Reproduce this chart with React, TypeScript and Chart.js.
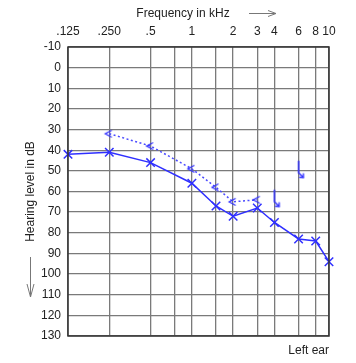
import React, { useEffect, useRef } from "react";
import { Chart, registerables } from "chart.js";

Chart.register(...registerables);

// Grid / tick frequencies (kHz) and labels
const gridFreqs = [0.125, 0.25, 0.5, 0.75, 1, 1.5, 2, 3, 4, 6, 8, 10];
const freqTickLabels = [".125", ".250", ".5", "", "1", "", "2", "3", "4", "6", "8", "10"];

// Air conduction (X), left ear
const airFreqs = [0.125, 0.25, 0.5, 1, 1.5, 2, 3, 4, 6, 8, 10];
const airLevels = [42, 41, 46, 56, 67, 72, 68, 75, 83, 84, 94];

// Bone conduction (<)
const boneFreqs = [0.25, 0.5, 1, 1.5, 2, 3];
const boneLevels = [32, 38, 49, 58, 65, 64];

// No-response symbols
const noRespFreqs = [4, 6];
const noRespLevels = [63, 49];

const BLUE = "#2f2fff";
const FONT = '"Liberation Sans", Arial, sans-serif';

function makeBoneImg(): HTMLCanvasElement {
  const c = document.createElement("canvas");
  c.width = 12;
  c.height = 10;
  const g = c.getContext("2d")!;
  g.strokeStyle = BLUE;
  g.lineWidth = 1.3;
  g.beginPath();
  g.moveTo(8.5, 1.5);
  g.lineTo(2, 5);
  g.lineTo(8.5, 8.5);
  g.stroke();
  return c;
}

function makeNoRespImg(): HTMLCanvasElement {
  const c = document.createElement("canvas");
  c.width = 20;
  c.height = 24;
  const g = c.getContext("2d")!;
  g.strokeStyle = BLUE;
  g.lineWidth = 1.5;
  g.lineCap = "round";
  g.beginPath();
  g.moveTo(10, 4.5);
  g.lineTo(10, 16);
  g.lineTo(14.5, 20.5);
  g.stroke();
  g.lineWidth = 1.3;
  g.beginPath();
  g.moveTo(11, 20.5);
  g.lineTo(14.8, 20.8);
  g.lineTo(14.8, 17);
  g.stroke();
  return c;
}

const decorPlugin = {
  id: "decor",
  afterDraw(chart: any) {
    const { ctx, chartArea } = chart;
    ctx.save();
    // frame
    ctx.strokeStyle = "#333";
    ctx.lineWidth = 1.5;
    ctx.strokeRect(chartArea.left, chartArea.top, chartArea.right - chartArea.left, chartArea.bottom - chartArea.top);

    ctx.fillStyle = "#222";
    ctx.font = `12px ${FONT}`;
    ctx.textBaseline = "middle";
    ctx.textAlign = "center";
    ctx.fillText("Frequency in kHz", 183, 14);

    // top arrow
    ctx.strokeStyle = "#777";
    ctx.lineWidth = 1;
    ctx.beginPath();
    ctx.moveTo(249, 13.5);
    ctx.lineTo(276, 13.5);
    ctx.moveTo(268, 10.5);
    ctx.lineTo(276, 13.5);
    ctx.lineTo(268, 16.5);
    ctx.stroke();

    // y title
    ctx.save();
    ctx.translate(31, (chartArea.top + chartArea.bottom) / 2);
    ctx.rotate(-Math.PI / 2);
    ctx.fillText("Hearing level in dB", 0, 0);
    ctx.restore();

    // down arrow
    ctx.beginPath();
    ctx.moveTo(30.5, 257);
    ctx.lineTo(30.5, 297);
    ctx.moveTo(27, 284);
    ctx.lineTo(30.5, 297);
    ctx.lineTo(34, 284);
    ctx.stroke();

    ctx.textAlign = "right";
    ctx.fillText("Left ear", chartArea.right, 351);
    ctx.restore();
  },
};

export default function App() {
  const ref = useRef<HTMLCanvasElement>(null);

  useEffect(() => {
    const canvas = ref.current!;
    const boneImg = makeBoneImg();
    const noRespImg = makeNoRespImg();

    const chart = new Chart(canvas, {
      type: "line",
      data: {
        datasets: [
          {
            label: "Air",
            data: airFreqs.map((f, i) => ({ x: f, y: airLevels[i] })),
            borderColor: BLUE,
            backgroundColor: BLUE,
            borderWidth: 1.5,
            pointStyle: "crossRot",
            pointRadius: 6,
            pointBorderWidth: 1.5,
            pointBorderColor: BLUE,
            clip: false as any,
          },
          {
            label: "Bone",
            data: boneFreqs.map((f, i) => ({ x: f, y: boneLevels[i] })),
            borderColor: "#4a4aff",
            borderWidth: 1.5,
            borderDash: [2, 2.5],
            pointStyle: boneImg as any,
            pointRadius: 5,
            clip: false as any,
          },
          {
            label: "NoResp",
            data: noRespFreqs.map((f, i) => ({ x: f, y: noRespLevels[i] })),
            showLine: false,
            pointStyle: noRespImg as any,
            pointRadius: 8,
            clip: false as any,
          },
        ],
      },
      options: {
        responsive: false,
        animation: false,
        layout: { padding: { left: 0, right: 27, top: 0, bottom: 27 } },
        plugins: {
          legend: { display: false },
          tooltip: { enabled: false },
          title: { display: false },
        },
        scales: {
          x: {
            type: "logarithmic",
            position: "top",
            min: 0.125,
            max: 10,
            afterFit: (s: any) => {
              s.height = 47;
            },
            afterBuildTicks: (s: any) => {
              s.ticks = gridFreqs.map((v) => ({ value: v }));
            },
            grid: { color: "#7a7a7a", lineWidth: 1.3, drawTicks: false },
            border: { display: false },
            ticks: {
              autoSkip: false,
              maxRotation: 0,
              minRotation: 0,
              padding: 8,
              color: "#222",
              font: { family: FONT, size: 12 },
              callback: (_v: any, i: number) => freqTickLabels[i],
            },
          },
          y: {
            type: "linear",
            reverse: true,
            min: -10,
            max: 130,
            afterFit: (s: any) => {
              s.width = 68;
            },
            grid: { color: "#7a7a7a", lineWidth: 1.3, drawTicks: false },
            border: { display: false },
            ticks: {
              stepSize: 10,
              padding: 7,
              color: "#222",
              font: { family: FONT, size: 12 },
            },
          },
        },
      },
      plugins: [decorPlugin],
    } as any);

    return () => chart.destroy();
  }, []);

  return (
    <div style={{ position: "absolute", left: 0, top: 0, width: 356, height: 363, background: "#fff" }}>
      <canvas ref={ref} width={356} height={363} style={{ display: "block" }} />
    </div>
  );
}
